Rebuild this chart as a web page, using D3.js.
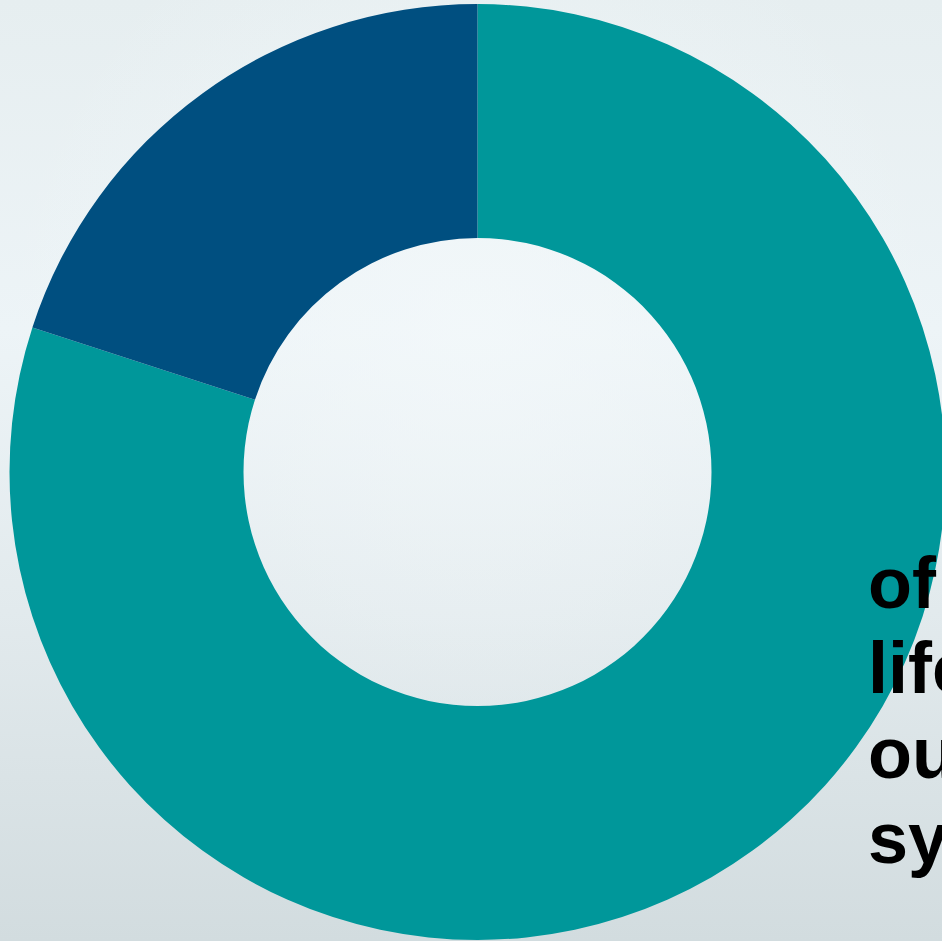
<!DOCTYPE html>
<html>
<head>
<meta charset="utf-8">
<script src="https://cdn.jsdelivr.net/npm/d3@7"></script>
<style>
  html, body { margin: 0; padding: 0; overflow: hidden; }
  body { width: 942px; height: 941px; }
</style>
</head>
<body>
<svg id="chart" width="942" height="941"></svg>
<script>
// Share of the two groups (percent)
const categories = ["Other", "Highlighted"];
const values = [80, 20];
const colors = ["#00979a", "#004f80"];
// Caption lines running off the right edge
const captionLines = ["of", "life", "outside", "system"];

const W = 942, H = 941;
const svg = d3.select("#chart");

// Background: soft vertical gradient with a faint light centre
const defs = svg.append("defs");
const lin = defs.append("linearGradient").attr("id", "bg").attr("x1", 0).attr("y1", 0).attr("x2", 0).attr("y2", 1);
lin.append("stop").attr("offset", "0%").attr("stop-color", "#e6eef0");
lin.append("stop").attr("offset", "35%").attr("stop-color", "#edf4f7");
lin.append("stop").attr("offset", "65%").attr("stop-color", "#e2eaed");
lin.append("stop").attr("offset", "100%").attr("stop-color", "#d2dcdf");
svg.append("rect").attr("width", W).attr("height", H).attr("fill", "url(#bg)");

const rad = defs.append("radialGradient").attr("id", "glow").attr("cx", "0.5").attr("cy", "0.35").attr("r", "0.5");
rad.append("stop").attr("offset", "0%").attr("stop-color", "#f4f9fb").attr("stop-opacity", 0.7);
rad.append("stop").attr("offset", "100%").attr("stop-color", "#f4f9fb").attr("stop-opacity", 0);
svg.append("rect").attr("width", W).attr("height", H).attr("fill", "url(#glow)");

// Donut
const cx = 477.5, cy = 472, outerR = 468, innerR = 234;
const pie = d3.pie().sort(null).value(d => d.value);
const arc = d3.arc().innerRadius(innerR).outerRadius(outerR);
const data = categories.map((c, i) => ({ name: c, value: values[i], color: colors[i] }));

svg.append("g")
  .attr("transform", `translate(${cx},${cy})`)
  .selectAll("path")
  .data(pie(data))
  .join("path")
  .attr("d", arc)
  .attr("fill", d => d.data.color);

// Caption text
const y = d3.scaleLinear().domain([0, captionLines.length - 1]).range([608, 863]);
svg.append("g")
  .selectAll("text")
  .data(captionLines)
  .join("text")
  .attr("x", 868)
  .attr("y", (d, i) => y(i))
  .attr("font-family", "'Liberation Sans', Arial, sans-serif")
  .attr("font-weight", "bold")
  .attr("font-size", 72)
  .attr("fill", "#000")
  .text(d => d);
</script>
</body>
</html>
